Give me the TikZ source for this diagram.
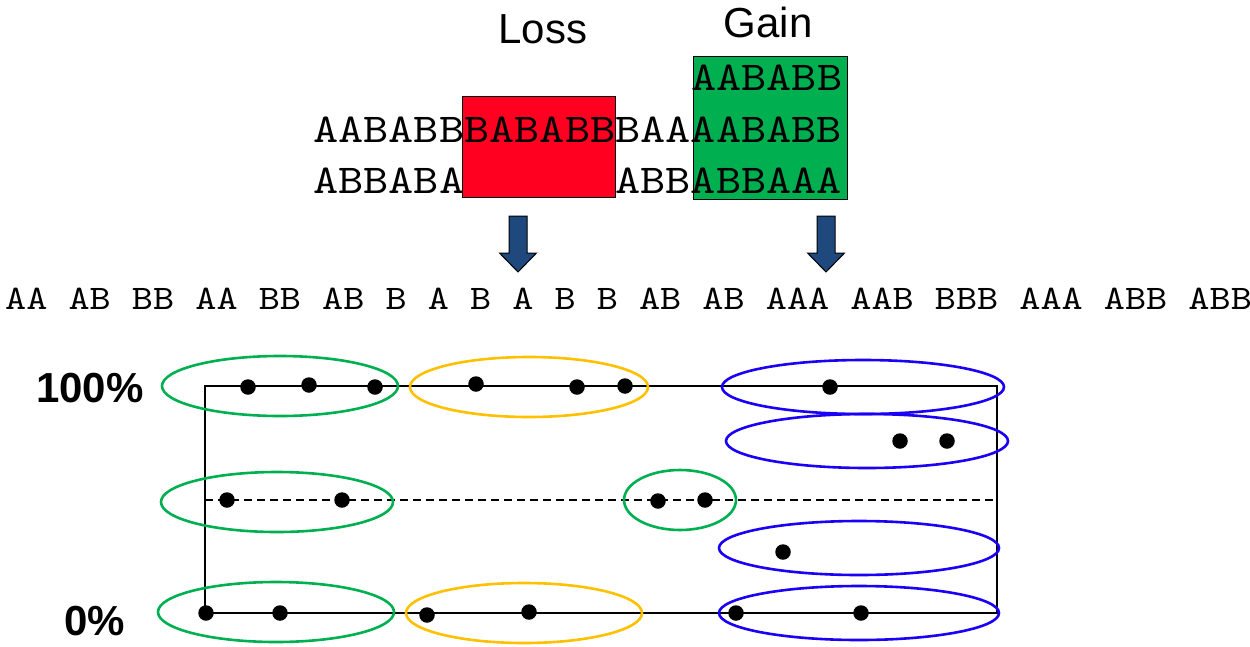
\documentclass[tikz,border=0pt]{standalone}
\usepackage{fontspec}
\setmainfont{Liberation Sans}
\newfontfamily\seqfont[FakeStretch=1.17]{lmmono10-regular.otf}
\usetikzlibrary{positioning}

\definecolor{lossred}{HTML}{FF0021}
\definecolor{gaingreen}{HTML}{00B050}
\definecolor{ringgreen}{HTML}{00B050}
\definecolor{ringorange}{HTML}{FFC000}
\definecolor{ringblue}{HTML}{1A00F5}
\definecolor{arrowblue}{HTML}{1F497D}

\tikzset{
    seq/.style={font=\seqfont\fontsize{41}{41}\selectfont, inner sep=0pt, anchor=base west},
    allele/.style={font=\seqfont\fontsize{34.4}{34.4}\selectfont, inner sep=0pt, anchor=base west},
    title/.style={font=\fontsize{42}{42}\selectfont, inner sep=0pt, anchor=base},
    level/.style={font=\bfseries\fontsize{42}{42}\selectfont, inner sep=0pt, anchor=base},
    block/.style={draw=black, line width=1pt, inner sep=0pt},
    ring/.style={line width=2.6pt},
    frame/.style={line width=1.8pt},
    dot/.style={circle, fill=black, inner sep=0pt, minimum size=15.5}
}

\begin{document}
\begin{tikzpicture}[x=1pt, y=-1pt]
    \useasboundingbox (0, 0) rectangle (1250, 646);

    \node[block, fill=lossred, minimum width=153, minimum height=101] (lossbox) at (538.5, 146.5) {};
    \node[block, fill=gaingreen, minimum width=154, minimum height=143] (gainbox) at (770, 127.5) {};
    \node[title] (loss) at (543, 43) {Loss};
    \node[title] (gain) at (768, 37) {Gain};

    \node[seq] (row1) at (691, 90) {AABABB};
    \node[seq] (row2) at (313, 142) {AABABBBABABBBAAAABABB};
    \node[seq] (row3) at (313, 193) {ABBABA\phantom{BABABB}ABBABBAAA};

    \foreach \x in {518, 826}
        \draw[block, fill=arrowblue] (\x-9, 216) -- (\x+9, 216) -- (\x+9, 253) -- (\x+18.5, 253)
            -- (\x, 272) -- (\x-18.5, 253) -- (\x-9, 253) -- cycle;

    \node[allele] (alleles) at (5, 309) {AA AB BB AA BB AB B A B A B B AB AB AAA AAB BBB AAA ABB ABB};

    \node[level] (top) at (90, 402) {100\%};
    \node[level] (bottom) at (94.5, 635) {0\%};

    \draw[frame] (205, 386) rectangle (997, 613);
    \draw[frame, dash pattern=on 8pt off 5pt] (205, 500) -- (997, 500);

    \draw[ring, ringgreen] (280, 386) ellipse [x radius=118, y radius=30];
    \draw[ring, ringorange] (529, 387) ellipse [x radius=119, y radius=30];
    \draw[ring, ringblue] (863, 387) ellipse [x radius=141, y radius=27];
    \draw[ring, ringblue] (867, 441) ellipse [x radius=141, y radius=27];
    \draw[ring, ringgreen] (277, 502) ellipse [x radius=116, y radius=30];
    \draw[ring, ringgreen] (680, 500) ellipse [x radius=56, y radius=30];
    \draw[ring, ringblue] (859, 548) ellipse [x radius=140, y radius=27];
    \draw[ring, ringgreen] (276, 612) ellipse [x radius=118, y radius=30];
    \draw[ring, ringorange] (524, 613) ellipse [x radius=118, y radius=30];
    \draw[ring, ringblue] (859, 613) ellipse [x radius=140, y radius=27];

    \foreach \x/\y [count=\i] in {248/387, 309/385, 375/387, 476/384, 577/387, 625/386, 830/387,
        900/441, 947/441, 227/500, 342/500, 658/501, 705/500, 783/552,
        206/613, 280/613, 427/615, 529/612, 736/613, 861/613}
        \node[dot] (d\i) at (\x, \y) {};
\end{tikzpicture}
\end{document}
